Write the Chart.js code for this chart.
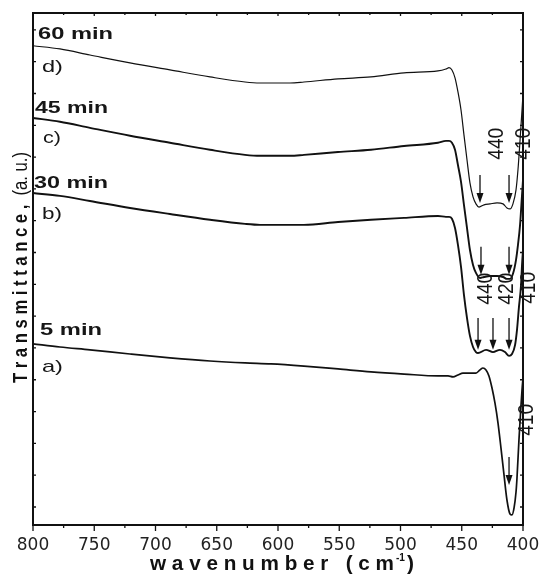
<!DOCTYPE html>
<html><head><meta charset="utf-8">
<script src="https://cdn.jsdelivr.net/npm/chart.js@4/dist/chart.umd.min.js"></script>
<style>html,body{margin:0;padding:0;background:#fff}</style>
</head><body>
<canvas id="c" width="542" height="577"></canvas>
<script>
// ---- data (wavenumber in cm-1, transmittance in arbitrary units) ----
const wnD = [800,778,753.5,720.8,688.2,655.5,626.9,614.7,590.2,578.8,551.0,524.1,497.1,469.4,462.9,460.4,458.0,455.5,453.1,450.6,448.2,445.7,443.3,440.8,438.4,435.9,431.8,426.9,421.2,416.3,413.1,410.6,408.2,405.7,404.1,402.4,400.8,400];
const tD  = [14.50,14.40,14.21,13.96,13.74,13.52,13.36,13.33,13.33,13.36,13.46,13.52,13.65,13.71,13.77,13.81,13.74,13.49,13.05,12.48,11.70,10.91,10.19,9.75,9.53,9.43,9.50,9.53,9.56,9.53,9.40,9.37,9.53,9.97,10.60,11.54,12.48,12.96];
const wnC = [800,778,753.5,720.8,688.2,655.5,626.9,614.7,590.2,578.8,551.0,524.1,497.1,469.4,462.9,460.4,458.0,455.5,453.1,450.6,448.2,445.7,443.3,440.8,438.4,435.1,431.8,426.9,421.2,416.3,413.1,410.6,408.2,405.7,404.1,402.4,400.8,400];
const tC  = [12.23,12.11,11.92,11.67,11.45,11.23,11.07,11.04,11.04,11.07,11.16,11.23,11.35,11.45,11.51,11.51,11.45,11.23,10.75,10.22,9.50,8.77,8.08,7.61,7.36,7.20,7.23,7.26,7.26,7.23,7.17,7.17,7.33,7.77,8.24,8.87,9.81,10.28];
const wnB = [800,778,753.5,720.8,688.2,655.5,626.9,614.7,590.2,578.8,551.0,524.1,497.1,469.4,462.9,460.4,458.0,455.5,453.1,450.6,448.2,445.7,443.3,440.8,438.4,436.7,430.2,424.5,418.8,414.7,411.4,409.0,406.5,404.9,403.3,401.6,400.8,400];
const tB  = [9.87,9.78,9.62,9.40,9.21,9.03,8.90,8.87,8.87,8.87,8.96,9.03,9.09,9.15,9.12,9.12,9.06,8.77,8.24,7.55,6.67,5.94,5.38,5.03,4.87,4.84,4.94,4.87,4.94,4.87,4.75,4.81,5.09,5.57,6.29,6.98,7.61,8.08];
const wnA = [800,778,753.5,720.8,688.2,655.5,626.9,605.7,578.8,551.0,524.1,497.1,469.4,461.2,457.1,453.1,449.0,443.3,438.4,435.1,432.7,430.2,427.8,425.3,422.9,420.4,418.0,415.5,413.1,410.6,409.0,407.3,405.7,404.9,403.3,401.6,400.8,400];
const tA  = [5.13,5.03,4.94,4.81,4.69,4.59,4.53,4.50,4.43,4.34,4.25,4.18,4.12,4.12,4.09,4.15,4.21,4.21,4.21,4.31,4.37,4.31,4.12,3.74,3.27,2.64,1.86,1.01,0.22,-0.22,-0.25,-0.03,0.47,0.91,2.11,3.21,3.68,4.06];

const xTickLabels = [800,750,700,650,600,550,500,450,400];
const xMinorTicks = [775,725,675,625,575,525,475,425];
const yTicks = [0,1,2,3,4,5,6,7,8,9,10,11,12,13,14,15];
const yMin = -0.566, yMax = 15.53;

// curve name labels: text, wavenumber, transmittance (baseline)
const nameTexts = ["60 min","45 min","30 min","5 min"];
const nameWn    = [795.9, 798.4, 799.2, 794.3];
const nameT     = [14.72, 12.39, 10.03, 5.41];
const letterTexts = ["d)","c)","b)","a)"];
const letterWn    = [792.7, 791.8, 792.7, 792.7];
const letterT     = [13.68, 11.45, 9.06, 4.25];

// arrows: wavenumber, top, bottom
const arrowWn  = [435.1, 411.4, 434.3, 411.4, 436.7, 424.5, 411.4, 411.4];
const arrowTop = [10.44, 10.44, 8.18, 8.18, 5.94, 5.94, 5.94, 1.57];
const arrowBot = [9.56, 9.56, 7.30, 7.30, 4.94, 4.94, 4.94, 0.69];

// peak labels: text, wavenumber (centre), transmittance (centre)
const peakTexts = ["440","410","440","420","410","410"];
const peakWn    = [422.0, 400.0, 431.0, 413.9, 395.9, 397.6];
const peakT     = [11.42, 11.42, 6.86, 6.86, 6.89, 2.74];

function pts(xs, ys){ return xs.map((v,i)=>({x:v, y:ys[i]})); }

function scaledText(ctx, text, x, y, font, width, rot){
  ctx.save();
  ctx.font = font;
  const w = ctx.measureText(text).width;
  ctx.translate(x, y);
  if (rot) ctx.rotate(rot);
  ctx.scale(width / w, 1);
  ctx.fillText(text, 0, 0);
  ctx.restore();
}

const deco = {
  id: 'deco',
  afterDatasetsDraw(chart){
    const {ctx, chartArea:a, scales:{x, y}} = chart;
    ctx.save();
    ctx.strokeStyle = '#111';
    ctx.fillStyle = '#111';
    // frame
    ctx.lineWidth = 2;
    ctx.strokeRect(a.left, a.top, a.right - a.left, a.bottom - a.top);
    // ticks
    ctx.lineWidth = 1.3;
    ctx.beginPath();
    xTickLabels.forEach(v => { const p = x.getPixelForValue(v);
      ctx.moveTo(p, a.bottom); ctx.lineTo(p, a.bottom + 6);
      ctx.moveTo(p, a.top); ctx.lineTo(p, a.top + 3); });
    xMinorTicks.forEach(v => { const p = x.getPixelForValue(v);
      ctx.moveTo(p, a.bottom); ctx.lineTo(p, a.bottom + 3);
      ctx.moveTo(p, a.top); ctx.lineTo(p, a.top + 2); });
    yTicks.forEach(v => { const p = y.getPixelForValue(v);
      ctx.moveTo(a.left, p); ctx.lineTo(a.left + 3, p);
      ctx.moveTo(a.right, p); ctx.lineTo(a.right - 3, p); });
    ctx.stroke();

    // arrows
    arrowWn.forEach((w, i) => {
      const px = x.getPixelForValue(w);
      const y0 = y.getPixelForValue(arrowTop[i]);
      const y1 = y.getPixelForValue(arrowBot[i]);
      ctx.lineWidth = 1.3;
      ctx.beginPath(); ctx.moveTo(px, y0); ctx.lineTo(px, y1 - 8); ctx.stroke();
      ctx.beginPath(); ctx.moveTo(px - 3.5, y1 - 10); ctx.lineTo(px + 3.5, y1 - 10); ctx.lineTo(px, y1); ctx.closePath(); ctx.fill();
    });

    ctx.fillStyle = '#161616';
    ctx.textBaseline = 'alphabetic';
    // curve names
    const nameW = [75, 73, 74, 62];
    nameTexts.forEach((t, i) => scaledText(ctx, t, x.getPixelForValue(nameWn[i]), y.getPixelForValue(nameT[i]), 'bold 17px "Liberation Sans", Arial, sans-serif', nameW[i]));
    const letW = [21, 18, 20, 21];
    letterTexts.forEach((t, i) => scaledText(ctx, t, x.getPixelForValue(letterWn[i]), y.getPixelForValue(letterT[i]), '17px "Liberation Sans", Arial, sans-serif', letW[i]));

    // peak labels (rotated)
    ctx.textBaseline = 'middle';
    ctx.textAlign = 'left';
    peakTexts.forEach((t, i) => {
      ctx.save();
      ctx.font = '22px "Liberation Sans", Arial, sans-serif';
      const w = ctx.measureText(t).width;
      ctx.translate(x.getPixelForValue(peakWn[i]), y.getPixelForValue(peakT[i]));
      ctx.rotate(-Math.PI / 2);
      ctx.scale(32 / w, 1);
      ctx.fillText(t, -w / 2, 1);
      ctx.restore();
    });

    // axis titles
    ctx.textBaseline = 'alphabetic';
    ctx.fillStyle = '#111';
    scaledText(ctx, 'w a v e n u m b e r   ( c m', 150, 570, 'bold 20px "Liberation Sans", Arial, sans-serif', 244);
    scaledText(ctx, '-1', 396, 561, 'bold 11px "Liberation Sans", Arial, sans-serif', 9);
    scaledText(ctx, ')', 407, 570, 'bold 20px "Liberation Sans", Arial, sans-serif', 7);

    // y title: bold part + regular part, rotated
    ctx.save();
    const f1 = 'bold 20px "Liberation Sans", Arial, sans-serif';
    const f2 = '20px "Liberation Sans", Arial, sans-serif';
    const p1 = 'T r a n s m i t t a n c e ,  ';
    const p2 = '(a. u.)';
    ctx.font = f1; const w1 = ctx.measureText(p1).width;
    ctx.font = f2; const w2 = ctx.measureText(p2).width;
    ctx.translate(27, 383);
    ctx.rotate(-Math.PI / 2);
    ctx.scale(231 / (w1 + w2), 1);
    ctx.font = f1; ctx.fillText(p1, 0, 0);
    ctx.font = f2; ctx.fillText(p2, w1, 0);
    ctx.restore();

    ctx.restore();
  }
};

const common = {pointRadius: 0, borderColor: '#111', fill: false, cubicInterpolationMode: 'monotone'};

new Chart(document.getElementById('c'), {
  type: 'line',
  data: {
    datasets: [
      Object.assign({label: '60 min', data: pts(wnD, tD), borderWidth: 1.2}, common),
      Object.assign({label: '45 min', data: pts(wnC, tC), borderWidth: 1.9}, common),
      Object.assign({label: '30 min', data: pts(wnB, tB), borderWidth: 1.9}, common),
      Object.assign({label: '5 min',  data: pts(wnA, tA), borderWidth: 1.7}, common)
    ]
  },
  options: {
    responsive: false,
    animation: false,
    devicePixelRatio: 1,
    layout: {padding: {left: 33, top: 13, right: 19, bottom: 0}},
    plugins: {legend: {display: false}, tooltip: {enabled: false}, title: {display: false}},
    scales: {
      x: {
        type: 'linear', reverse: true, min: 400, max: 800,
        afterFit(s){ s.height = 52; s.paddingLeft = 0; s.paddingRight = 0; },
        afterBuildTicks(s){ s.ticks = xTickLabels.map(v => ({value: v})); },
        ticks: {font: {family: '"DejaVu Sans", sans-serif', size: 17}, color: '#222', padding: 10, maxRotation: 0, autoSkip: false},
        grid: {display: false, drawTicks: false},
        border: {display: false}
      },
      y: {type: 'linear', display: false, min: yMin, max: yMax}
    }
  },
  plugins: [deco]
});
</script>
</body></html>
